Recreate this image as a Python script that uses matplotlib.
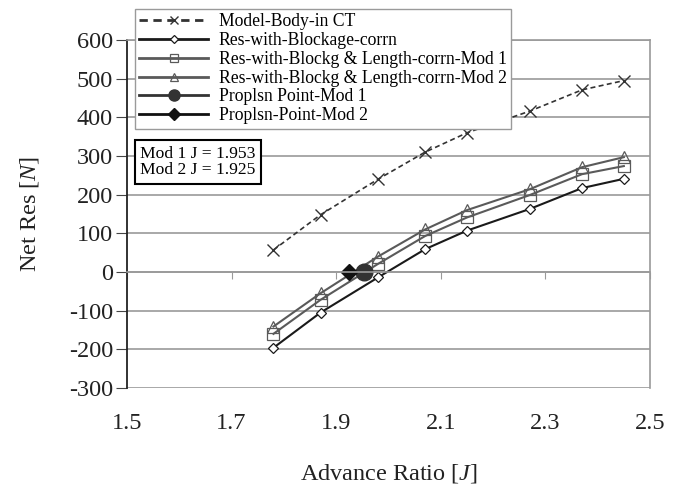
import matplotlib
matplotlib.use("Agg")
import matplotlib.pyplot as plt

plt.rcParams['font.family'] = ['Liberation Serif', 'DejaVu Serif']
plt.rcParams['mathtext.fontset'] = 'custom'
plt.rcParams['mathtext.it'] = 'Liberation Serif:italic'
plt.rcParams['mathtext.rm'] = 'Liberation Serif'
plt.rcParams['axes.unicode_minus'] = False

# advance ratio J
J = [1.78, 1.87, 1.98, 2.07, 2.15, 2.27, 2.37, 2.45]
model_body_ct = [57, 148, 240, 310, 360, 416, 471, 495]
res_blockage = [-196, -105, -14, 59, 107, 163, 217, 241]
res_mod1 = [-160, -72, 21, 93, 141, 199, 253, 274]
res_mod2 = [-141, -55, 40, 110, 160, 214, 271, 297]

prop_mod1_J = [1.953]
prop_mod1_R = [0]
prop_mod2_J = [1.925]
prop_mod2_R = [0]

xticks = [1.5, 1.7, 1.9, 2.1, 2.3, 2.5]
yticks = [-300, -200, -100, 0, 100, 200, 300, 400, 500, 600]

grey = '#9a9a9a'

fig = plt.figure(figsize=(6.8, 4.92), dpi=100)
ax = fig.add_axes([127/680, 1-388/492, 523/680, 348/492])

ax.plot(J, model_body_ct, color='#333333', ls=(0, (3, 2)), lw=1.2, marker='x',
        ms=8, mew=1.0, label='Model-Body-in CT')
ax.plot(J, res_blockage, color='#1a1a1a', lw=1.5, marker='D', ms=5.5, mew=0.9,
        mfc='white', label='Res-with-Blockage-corrn')
ax.plot(J, res_mod1, color='#5a5a5a', lw=1.5, marker='s', ms=8, mew=0.9,
        mfc='none', label='Res-with-Blockg & Length-corrn-Mod 1')
ax.plot(J, res_mod2, color='#5a5a5a', lw=1.5, marker='^', ms=8, mew=0.9,
        mfc='none', label='Res-with-Blockg & Length-corrn-Mod 2')
ax.plot(prop_mod1_J, prop_mod1_R, color='#333333', lw=2, marker='o', ms=12,
        label='Proplsn Point-Mod 1')
ax.plot(prop_mod2_J, prop_mod2_R, color='#111111', lw=2, marker='D', ms=8,
        label='Proplsn-Point-Mod 2')

ax.set_xlim(1.5, 2.5)
ax.set_ylim(-300, 600)
ax.set_yticks(yticks)
ax.yaxis.grid(True, color=grey, lw=1.2)
ax.set_axisbelow(True)

# x axis crosses at zero, labels stay at the bottom
ax.spines['bottom'].set_position(('data', 0))
ax.spines['bottom'].set_color(grey)
ax.spines['bottom'].set_linewidth(1.2)
ax.set_xticks(xticks)
ax.tick_params(axis='x', direction='out', length=5, color=grey, labelbottom=False)
for s in ['top', 'right']:
    ax.spines[s].set_color(grey)
    ax.spines[s].set_linewidth(1.2)
ax.spines['left'].set_color('#222222')
ax.spines['left'].set_linewidth(1.3)
ax.tick_params(axis='y', direction='out', length=8, color='#444444', labelsize=17.5, pad=2)
for t in ax.get_yticklabels():
    t.set_color('#222222')

sec = ax.secondary_xaxis('bottom')
sec.set_xticks(xticks)
sec.tick_params(length=0, labelsize=17.5, pad=18, labelcolor='#222222')
sec.spines['bottom'].set_visible(False)
sec.set_xlabel('Advance Ratio [$\\mathit{J}$]', fontsize=17.5, labelpad=20, color='#222222')

ax.set_ylabel('Net Res [$\\mathit{N}$]', fontsize=17.5, labelpad=20, color='#222222')

leg = ax.legend(loc='upper left', bbox_to_anchor=(135/680, 1-9/492),
                bbox_transform=fig.transFigure, fontsize=12.7, frameon=True,
                fancybox=False, framealpha=1, edgecolor=grey, handlelength=3.9,
                labelspacing=0.1, borderpad=0.25, handletextpad=0.6,
                borderaxespad=0)
leg.get_frame().set_linewidth(1.0)
legend_ms = [6, 4.5, 6, 6, 8, 6]
for h, m in zip(leg.get_lines(), legend_ms):
    h.set_markersize(m)
    h.set_linewidth(2)

fig.text(140/680, 1-162/492, 'Mod 1 J = 1.953\nMod 2 J = 1.925', fontsize=12.6,
         va='center', ha='left', linespacing=1.05,
         bbox=dict(boxstyle='square,pad=0.3', fc='white', ec='black', lw=1.5))

fig.savefig('out.png', dpi=100)
